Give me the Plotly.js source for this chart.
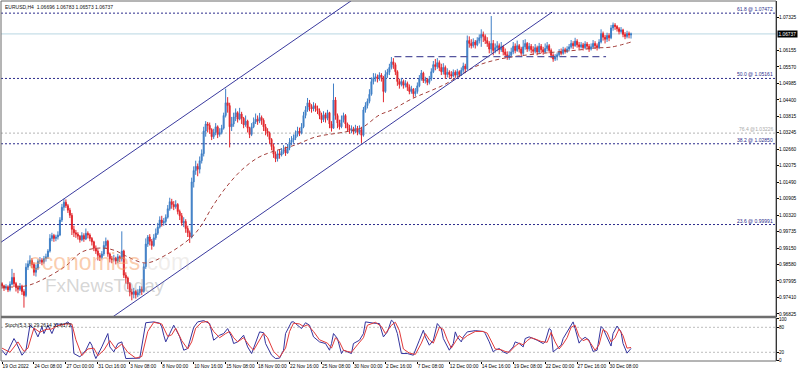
<!DOCTYPE html>
<html><head><meta charset="utf-8">
<script src="https://cdn.plot.ly/plotly-3.0.1.min.js"></script>
<style>html,body{margin:0;padding:0;background:#fff;}#chart{width:798px;height:372px;}</style>
</head><body><div id="chart"></div>
<script>
// ---------- DATA (EURUSD H4, one value per bar) ----------
const firstOpen = 0.9790;
const close = [
0.9782,0.9774,0.9779,0.9768,0.9788,0.9812,0.9790,0.9776,0.9770,0.9781,0.9762,0.9748,0.9848,0.9860,
0.9872,0.9858,0.9830,0.9845,0.9868,0.9873,
0.9866,0.9878,0.9885,0.9905,0.9950,0.9960,
0.9950,0.9955,0.9962,1.0015,1.0060,1.0078,
1.0066,1.0050,1.0032,0.9982,0.9970,0.9965,
0.9958,0.9945,0.9960,0.9948,0.9968,0.9962,
0.9950,0.9938,0.9915,0.9905,0.9890,0.9882,
0.9895,0.9925,0.9940,0.9895,0.9878,0.9875,
0.9880,0.9870,0.9885,0.9878,0.9905,0.9820,
0.9810,0.9790,0.9760,0.9752,0.9762,0.9750,
0.9758,0.9770,0.9762,0.9850,0.9930,0.9955,
0.9940,0.9925,0.9952,0.9968,0.9990,1.0015,
1.0005,1.0010,1.0025,1.0055,1.0080,1.0070,
1.0062,1.0070,1.0045,1.0030,1.0005,1.0010,
0.9985,0.9970,0.9955,1.0150,1.0190,1.0205,
1.0195,1.0225,1.0250,1.0330,1.0355,1.0350,
1.0335,1.0310,1.0325,1.0345,1.0318,1.0325,
1.0340,1.0385,1.0430,1.0420,1.0345,1.0355,
1.0380,1.0395,1.0372,1.0390,1.0375,1.0352,
1.0365,1.0340,1.0318,1.0345,1.0362,1.0372,
1.0365,1.0378,1.0368,1.0345,1.0330,1.0322,
1.0300,1.0275,1.0248,1.0232,1.0250,1.0245,
1.0258,1.0265,1.0252,1.0270,1.0290,1.0298,
1.0305,1.0318,1.0330,1.0322,1.0345,1.0385,
1.0405,1.0430,1.0415,1.0408,1.0420,1.0410,
1.0402,1.0385,1.0370,1.0388,1.0375,1.0395,
1.0355,1.0340,1.0440,1.0385,1.0358,1.0345,
1.0370,1.0385,1.0355,1.0340,1.0332,1.0338,
1.0328,1.0340,1.0325,1.0335,1.0315,1.0405,
1.0420,1.0435,1.0460,1.0505,1.0518,1.0522,
1.0515,1.0528,1.0520,1.0470,1.0530,1.0538,
1.0555,1.0575,1.0565,1.0540,1.0505,1.0495,
1.0505,1.0492,1.0498,1.0485,1.0470,1.0478,
1.0462,1.0470,1.0490,1.0515,1.0535,1.0508,
1.0512,1.0502,1.0515,1.0540,1.0565,1.0558,
1.0572,1.0555,1.0540,1.0555,1.0530,1.0538,
1.0530,1.0525,1.0538,1.0528,1.0540,1.0530,
1.0545,1.0560,1.0550,1.0650,1.0640,1.0632,
1.0645,1.0635,1.0650,1.0660,1.0672,1.0665,
1.0650,1.0640,1.0620,1.0640,1.0615,1.0625,
1.0632,1.0618,1.0628,1.0610,1.0600,1.0590,
1.0598,1.0610,1.0630,1.0615,1.0632,1.0620,
1.0605,1.0628,1.0640,1.0620,1.0630,1.0618,
1.0612,1.0625,1.0610,1.0630,1.0618,1.0610,
1.0622,1.0632,1.0615,1.0598,1.0585,1.0592,
1.0600,1.0610,1.0605,1.0618,1.0612,1.0620,
1.0628,1.0640,1.0632,1.0648,1.0635,1.0628,
1.0635,1.0625,1.0638,1.0630,1.0620,1.0628,
1.0640,1.0632,1.0625,1.0645,1.0675,1.0662,
1.0655,1.0668,1.0660,1.0695,1.0705,1.0700,
1.0692,1.0682,1.0688,1.0672,1.0665,1.0675,
1.0670,1.06737];
const high = [
0.9795,0.9786,0.9788,0.9784,0.9798,0.9842,0.9828,0.9796,0.9784,0.9792,0.9786,0.9770,0.9862,0.9872,
0.9890,0.9880,0.9865,0.9858,0.9876,0.9884,
0.9880,0.9888,0.9896,0.9912,0.9965,0.9970,
0.9966,0.9963,0.9975,1.0025,1.0072,1.0090,
1.0088,1.0072,1.0058,1.0040,0.9995,0.9980,
0.9972,0.9962,0.9972,0.9968,0.9985,0.9975,
0.9968,0.9955,0.9942,0.9925,0.9912,0.9898,
0.9905,0.9940,0.9953,0.9945,0.9900,0.9888,
0.9892,0.9885,0.9895,0.9890,0.9975,0.9910,
0.9830,0.9815,0.9795,0.9772,0.9775,0.9768,
0.9770,0.9782,0.9780,0.9862,0.9950,0.9962,
0.9965,0.9948,0.9965,0.9985,1.0005,1.0028,
1.0030,1.0022,1.0035,1.0068,1.0094,1.0090,
1.0082,1.0085,1.0075,1.0052,1.0040,1.0025,
1.0018,0.9995,0.9978,1.0165,1.0205,1.0225,
1.0215,1.0240,1.0265,1.0345,1.0365,1.0362,
1.0360,1.0340,1.0338,1.0358,1.0350,1.0340,
1.0352,1.0395,1.0480,1.0450,1.0430,1.0380,
1.0395,1.0410,1.0400,1.0412,1.0398,1.0380,
1.0385,1.0370,1.0345,1.0358,1.0378,1.0392,
1.0385,1.0394,1.0385,1.0375,1.0355,1.0340,
1.0328,1.0305,1.0285,1.0258,1.0262,1.0265,
1.0270,1.0280,1.0275,1.0284,1.0305,1.0312,
1.0318,1.0332,1.0345,1.0342,1.0358,1.0398,
1.0418,1.0447,1.0440,1.0425,1.0432,1.0428,
1.0420,1.0410,1.0395,1.0400,1.0395,1.0405,
1.0398,1.0365,1.0498,1.0450,1.0392,1.0370,
1.0385,1.0395,1.0390,1.0360,1.0352,1.0350,
1.0345,1.0352,1.0348,1.0350,1.0345,1.0415,
1.0432,1.0445,1.0478,1.0520,1.0535,1.0534,
1.0530,1.0538,1.0535,1.0525,1.0545,1.0550,
1.0568,1.0592,1.0588,1.0572,1.0545,1.0515,
1.0518,1.0512,1.0510,1.0505,1.0495,1.0490,
1.0482,1.0482,1.0502,1.0528,1.0546,1.0540,
1.0522,1.0518,1.0525,1.0552,1.0578,1.0585,
1.0588,1.0580,1.0568,1.0570,1.0562,1.0552,
1.0545,1.0542,1.0548,1.0545,1.0550,1.0545,
1.0555,1.0572,1.0568,1.0668,1.0665,1.0655,
1.0658,1.0652,1.0662,1.0672,1.0690,1.0682,
1.0672,1.0662,1.0648,1.0737,1.0652,1.0640,
1.0648,1.0640,1.0645,1.0635,1.0622,1.0612,
1.0612,1.0625,1.0645,1.0640,1.0650,1.0638,
1.0628,1.0652,1.0655,1.0645,1.0642,1.0638,
1.0630,1.0638,1.0632,1.0642,1.0638,1.0628,
1.0640,1.0645,1.0638,1.0622,1.0605,1.0602,
1.0608,1.0620,1.0622,1.0628,1.0625,1.0630,
1.0638,1.0652,1.0648,1.0660,1.0655,1.0645,
1.0645,1.0642,1.0648,1.0645,1.0638,1.0640,
1.0652,1.0648,1.0640,1.0655,1.0690,1.0682,
1.0670,1.0678,1.0676,1.0705,1.0714,1.0712,
1.0705,1.0698,1.0698,1.0692,1.0680,1.0685,
1.0682,1.06783];
const low = [
0.9772,0.9764,0.9768,0.9760,0.9762,0.9784,0.9778,0.9762,0.9756,0.9764,0.9750,0.9705,0.9742,0.9838,
0.9852,0.9845,0.9818,0.9815,0.9838,0.9860,
0.9855,0.9860,0.9868,0.9878,0.9900,0.9940,
0.9938,0.9940,0.9946,0.9958,1.0008,1.0048,
1.0058,1.0040,1.0022,0.9962,0.9955,0.9952,
0.9946,0.9935,0.9940,0.9938,0.9944,0.9950,
0.9940,0.9925,0.9905,0.9895,0.9872,0.9870,
0.9876,0.9888,0.9915,0.9885,0.9865,0.9862,
0.9868,0.9858,0.9862,0.9866,0.9868,0.9810,
0.9790,0.9770,0.9745,0.9731,0.9738,0.9737,
0.9742,0.9748,0.9750,0.9758,0.9842,0.9920,
0.9925,0.9910,0.9920,0.9945,0.9962,0.9985,
0.9992,0.9995,1.0002,1.0020,1.0048,1.0055,
1.0050,1.0055,1.0035,1.0015,0.9995,0.9990,
0.9970,0.9955,0.9934,0.9950,1.0130,1.0175,
1.0170,1.0180,1.0215,1.0240,1.0310,1.0325,
1.0320,1.0298,1.0302,1.0315,1.0305,1.0310,
1.0318,1.0335,1.0378,1.0395,1.0272,1.0330,
1.0345,1.0365,1.0360,1.0368,1.0355,1.0340,
1.0345,1.0325,1.0305,1.0312,1.0340,1.0355,
1.0352,1.0358,1.0352,1.0330,1.0315,1.0310,
1.0285,1.0262,1.0235,1.0220,1.0222,1.0232,
1.0240,1.0248,1.0242,1.0250,1.0262,1.0280,
1.0288,1.0298,1.0310,1.0312,1.0318,1.0340,
1.0375,1.0398,1.0400,1.0395,1.0400,1.0398,
1.0390,1.0372,1.0358,1.0362,1.0360,1.0368,
1.0340,1.0328,1.0338,1.0370,1.0340,1.0335,
1.0340,1.0360,1.0340,1.0328,1.0320,1.0322,
1.0318,1.0322,1.0315,1.0318,1.0288,1.0310,
1.0395,1.0410,1.0428,1.0455,1.0495,1.0505,
1.0502,1.0508,1.0505,1.0432,1.0465,1.0518,
1.0528,1.0548,1.0550,1.0528,1.0490,1.0480,
1.0488,1.0480,1.0484,1.0472,1.0460,1.0462,
1.0448,1.0452,1.0462,1.0485,1.0508,1.0500,
1.0498,1.0492,1.0495,1.0508,1.0535,1.0545,
1.0550,1.0542,1.0528,1.0530,1.0515,1.0520,
1.0518,1.0515,1.0520,1.0518,1.0522,1.0520,
1.0525,1.0538,1.0535,1.0545,1.0625,1.0622,
1.0625,1.0622,1.0630,1.0640,1.0628,1.0645,
1.0638,1.0628,1.0605,1.0605,1.0598,1.0605,
1.0612,1.0602,1.0610,1.0598,1.0588,1.0582,
1.0582,1.0590,1.0602,1.0605,1.0610,1.0608,
1.0595,1.0598,1.0618,1.0610,1.0612,1.0605,
1.0600,1.0605,1.0598,1.0605,1.0605,1.0600,
1.0605,1.0612,1.0605,1.0588,1.0575,1.0578,
1.0580,1.0595,1.0598,1.0600,1.0604,1.0606,
1.0612,1.0622,1.0620,1.0628,1.0625,1.0618,
1.0622,1.0615,1.0620,1.0620,1.0610,1.0615,
1.0622,1.0620,1.0615,1.0620,1.0640,1.0650,
1.0640,1.0645,1.0648,1.0655,1.0685,1.0688,
1.0682,1.0672,1.0675,1.0662,1.0655,1.0658,
1.0658,1.06573];

// moving average (dashed) read at sample bars
const maBar = [0,12,20,32,40,50,57,62,72,82,95,100,105,112,120,128,135,147,157,172,180,189,195,205,222,232,239,247,255,272,289,297,305,315];
const maVal = [0.9778,0.9782,0.9803,0.9853,0.9902,0.9916,0.9906,0.9888,0.9863,0.9891,0.9955,0.9998,1.0058,1.0129,1.0192,1.0235,1.0256,1.0281,1.0309,1.0327,1.0341,1.0387,1.0404,1.0443,1.0496,1.0539,1.0564,1.0581,1.0592,1.0606,1.0617,1.0624,1.0627,1.0645];

// Stochastic(5,3,3): main (blue) and signal (red)
const kBar = [0,2,6,7,10,12,14,16,18,20,21,23,25,27,31,33,35,36,39,42,44,45,46,47,50,53,54,56,58,60,62,66,69,72,76,79,80,81,82,84,86,89,91,93,96,98,101,104,106,109,111,113,115,116,118,121,123,125,127,129,131,132,135,137,139,141,142,145,146,148,150,152,154,156,159,162,164,165,166,168,170,171,173,175,176,179,181,182,186,189,191,193,195,196,198,200,203,206,209,211,212,214,216,218,220,221,224,226,227,228,230,231,233,237,241,242,244,246,247,249,251,253,256,257,259,261,262,264,266,268,271,272,274,275,276,278,280,281,283,286,287,289,290,292,294,296,298,300,301,303,305,306,308,310,311,313,315];
const kVal = [25,13,53,45,13,25,85,77,57,81,65,85,65,88,87,93,81,17,9,25,45,37,17,5,33,65,33,21,41,45,5,5,6,91,93,90,81,61,45,65,85,57,25,29,80,93,96,89,49,61,65,77,57,41,45,61,33,17,41,69,67,41,13,5,6,25,65,93,93,85,77,91,85,57,45,41,25,41,65,53,17,25,21,17,41,49,65,93,90,89,57,69,97,93,65,17,17,13,49,73,57,37,49,89,77,53,25,41,69,57,45,57,69,72,70,65,45,21,25,29,21,17,33,45,41,33,53,57,53,49,41,45,77,73,21,29,37,53,69,93,77,42,49,56,49,22,25,82,77,57,35,65,83,69,41,18,29.26];
const dBar = [0,4,8,11,13,16,19,22,25,28,32,35,37,40,43,46,48,51,54,57,60,63,67,70,73,76,80,83,85,87,90,93,95,97,100,103,106,109,112,114,116,118,121,124,126,129,131,133,136,139,142,144,146,149,151,153,156,159,163,165,167,169,171,173,175,178,181,183,187,190,192,195,197,199,201,204,207,210,212,214,216,219,221,223,225,227,229,231,233,237,241,243,245,247,250,252,254,257,259,261,263,265,267,270,273,275,277,279,281,283,285,287,289,291,293,295,297,299,301,303,305,307,309,311,313,315];
const dVal = [30,20,45,22,30,78,68,75,76,84,88,88,50,12,28,30,12,25,48,28,40,20,6,10,70,92,88,58,62,78,48,28,45,78,92,94,70,55,65,70,55,45,55,35,25,50,66,55,22,8,30,70,90,88,82,86,70,50,42,30,55,45,25,22,20,38,55,85,92,82,65,85,92,72,28,18,15,42,65,50,42,80,75,50,30,45,60,52,60,70,70,66,48,28,26,22,20,35,42,38,48,55,52,46,44,68,45,28,40,55,80,85,58,48,52,40,25,38,75,68,45,55,76,60,30,31.62];
const stochLevels = [80, 20];

// drawn objects (bar index, price)
const upperChannel = [[-1, 0.9934], [180, 1.0816]];
const lowerChannel = [[55, 0.9670], [275.5, 1.0751]];
const rangeLine = [[196.5, 1.0593], [302.5, 1.0593]];
const fibNames = ['61.8', '50.0', '38.2', '23.6'];
const fibPrices = [1.07472, 1.05161, 1.02850, 0.99991];
const greyFibName = '76.4';
const greyFibPrice = 1.03226;
const lastPrice = 1.06737;
const header = 'EURUSD,H4  1.06696 1.06783 1.06573 1.06737';
const stochHeader = 'Stoch(5,3,3) 29.2614 31.6172';

// axis ticks
const labelBars = [0,16,32,48,64,80,96,112,128,144,160,176,192,208,224,240,256,272,288,304];
const timeLabels = ['19 Oct 2022','24 Oct 08:00','27 Oct 00:00','31 Oct 16:00','3 Nov 08:00','8 Nov 00:00','10 Nov 16:00','15 Nov 08:00','18 Nov 00:00','22 Nov 16:00','25 Nov 08:00','30 Nov 00:00','2 Dec 16:00','7 Dec 08:00','12 Dec 00:00','14 Dec 16:00','19 Dec 08:00','22 Dec 00:00','27 Dec 16:00','30 Dec 08:00'];
const priceTicks = ['1.07325','1.06155','1.05570','1.04985','1.04400','1.03815','1.03245','1.02660','1.02075','1.01490','1.00905','1.00320','0.99735','0.99150','0.98580','0.97995','0.97410','0.96825'];
const stochTicks = ['100','80','20','0'];

// ---------- BUILD ----------
if (close.length !== high.length || close.length !== low.length) {
  throw new Error('length mismatch ' + close.length + ' ' + high.length + ' ' + low.length);
}
if (kBar.length !== kVal.length || dBar.length !== dVal.length) {
  throw new Error('stoch mismatch ' + kBar.length + ' ' + kVal.length + ' ' + dBar.length + ' ' + dVal.length);
}
const bars = close.map((_, i) => i);
const open = [firstOpen].concat(close.slice(0, -1));

const FONT = 'Liberation Sans, Arial, sans-serif';
const NAVY = '#2c2c8c';
const traces = [
  {type:'scatter', mode:'lines', x:maBar, y:maVal, line:{color:'#a4403c', width:1, dash:'4px,3px', shape:'spline'}, hoverinfo:'skip', xaxis:'x', yaxis:'y'},
  {type:'candlestick', x:bars, open:open, high:high, low:low, close:close,
   increasing:{line:{color:'#3f7fc6', width:1}, fillcolor:'#3f7fc6'},
   decreasing:{line:{color:'#e2262c', width:1}, fillcolor:'#e2262c'},
   whiskerwidth:0, hoverinfo:'skip', xaxis:'x', yaxis:'y'},
  {type:'scatter', mode:'lines', x:kBar, y:kVal, line:{color:'#34349e', width:1}, hoverinfo:'skip', xaxis:'x', yaxis:'y2'},
  {type:'scatter', mode:'lines', x:dBar, y:dVal, line:{color:'#e23a3a', width:1}, hoverinfo:'skip', xaxis:'x', yaxis:'y2'}
];

const shapes = [];
shapes.push({type:'line', xref:'paper', x0:0, x1:1, yref:'y', y0:lastPrice, y1:lastPrice, line:{color:'#b8d6e2', width:1}, layer:'below'});
fibPrices.forEach(p => shapes.push({type:'line', xref:'paper', x0:0, x1:1, yref:'y', y0:p, y1:p, line:{color:NAVY, width:1, dash:'2px,2px'}, layer:'below'}));
shapes.push({type:'line', xref:'paper', x0:0, x1:1, yref:'y', y0:greyFibPrice, y1:greyFibPrice, line:{color:'#b4b4b4', width:1, dash:'2px,2px'}, layer:'below'});
[upperChannel, lowerChannel].forEach(c => shapes.push({type:'line', xref:'x', yref:'y', x0:c[0][0], y0:c[0][1], x1:c[1][0], y1:c[1][1], line:{color:'#3a3a9e', width:1}}));
shapes.push({type:'line', xref:'x', yref:'y', x0:rangeLine[0][0], y0:rangeLine[0][1], x1:rangeLine[1][0], y1:rangeLine[1][1], line:{color:'#55559e', width:1.2, dash:'7px,4px'}});
stochLevels.forEach(v => shapes.push({type:'line', xref:'paper', x0:0, x1:1, yref:'y2', y0:v, y1:v, line:{color:'#bdbdbd', width:1, dash:'2px,2px'}, layer:'below'}));
shapes.push({type:'rect', xref:'paper', yref:'paper', x0:0, x1:1, y0:0, y1:1, line:{color:'#6a6a6a', width:1}});
shapes.push({type:'line', xref:'paper', yref:'paper', x0:0, x1:1.0, y0:0.1222, y1:0.1222, line:{color:'#6e6e6e', width:2.5}});

const annotations = [];
annotations.push({xref:'paper', yref:'paper', x:0.003, y:0.997, xanchor:'left', yanchor:'top', text:header, showarrow:false, font:{family:FONT, size:5, color:'#111'}});
annotations.push({xref:'paper', yref:'paper', x:0.003, y:0.114, xanchor:'left', yanchor:'top', text:stochHeader, showarrow:false, font:{family:FONT, size:5, color:'#111'}});
fibNames.forEach((n, i) => annotations.push({xref:'paper', yref:'y', x:0.997, y:fibPrices[i], xanchor:'right', yanchor:'bottom', text:n + ' @ ' + fibPrices[i].toFixed(5), showarrow:false, font:{family:FONT, size:5, color:NAVY}, borderpad:0}));
annotations.push({xref:'paper', yref:'y', x:0.997, y:greyFibPrice, xanchor:'right', yanchor:'bottom', text:greyFibName + ' @' + greyFibPrice.toFixed(5), showarrow:false, font:{family:FONT, size:5, color:'#a8a8a8'}, borderpad:0});
annotations.push({xref:'paper', yref:'y', x:1, xshift:1, y:lastPrice, xanchor:'left', yanchor:'middle', text:lastPrice.toFixed(5), showarrow:false, bgcolor:'#000', font:{family:FONT, size:4.8, color:'#fff'}, borderpad:0.5});
// watermark
annotations.push({xref:'paper', yref:'paper', x:0.1406, y:0.276, xanchor:'center', yanchor:'middle', showarrow:false,
  text:'economies<span style="color:rgba(195,185,175,0.5)">.com</span>', font:{family:FONT, size:23, color:'rgba(246,155,95,0.5)'}});
annotations.push({xref:'paper', yref:'paper', x:0.134, y:0.21, xanchor:'center', yanchor:'middle', showarrow:false,
  text:'FxNewsToday', font:{family:FONT, size:19, color:'rgba(150,150,150,0.4)'}});

const layout = {
  width:798, height:372,
  margin:{l:1, r:22, t:1, b:11, pad:0},
  paper_bgcolor:'#fff', plot_bgcolor:'#fff',
  showlegend:false, hovermode:false,
  font:{family:FONT, size:5, color:'#000'},
  xaxis:{range:[-0.5, 387.6], anchor:'y2', tickmode:'array', tickvals:labelBars, ticktext:timeLabels,
         tickangle:0, automargin:false,
         ticks:'outside', ticklen:2, tickcolor:'#000', ticklabelposition:'outside right',
         tickfont:{family:FONT, size:4.8, color:'#000'}, showgrid:false, zeroline:false, showline:false,
         rangeslider:{visible:false}, fixedrange:true},
  yaxis:{domain:[0.1236, 1], range:[0.96736, 1.07902], side:'right', anchor:'x',
         tickmode:'array', tickvals:priceTicks.map(Number), ticktext:priceTicks,
         ticks:'outside', ticklen:2, tickcolor:'#000', ticklabelstandoff:-1, tickfont:{family:FONT, size:4.8, color:'#000'},
         showgrid:false, zeroline:false, showline:true, linecolor:'#000', linewidth:1, fixedrange:true},
  yaxis2:{domain:[0, 0.1194], range:[-0.9, 102.3], side:'right', anchor:'x',
          tickmode:'array', tickvals:stochTicks.map(Number), ticktext:stochTicks,
          ticks:'outside', ticklen:2, tickcolor:'#000', ticklabelstandoff:-1, tickfont:{family:FONT, size:4.6, color:'#000'},
          showgrid:false, zeroline:false, showline:true, linecolor:'#000', linewidth:1, fixedrange:true},
  shapes:shapes,
  annotations:annotations
};
Plotly.newPlot('chart', traces, layout, {staticPlot:true, displayModeBar:false});
</script></body></html>
